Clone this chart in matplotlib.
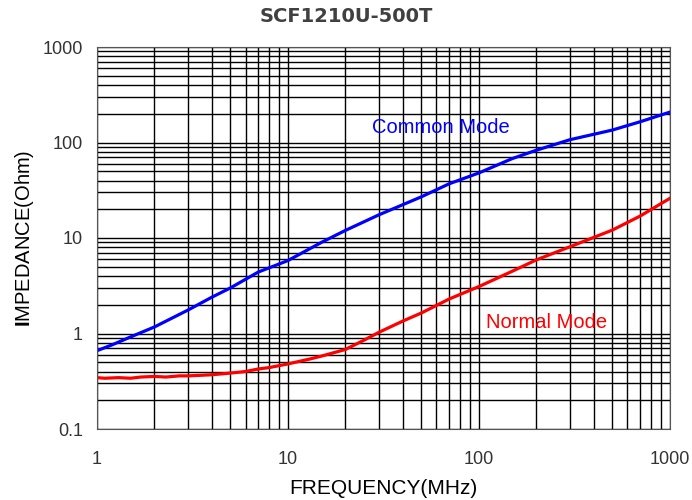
import matplotlib
matplotlib.use("Agg")
import matplotlib.pyplot as plt
import numpy as np

plt.rcParams['font.family'] = ['Liberation Sans', 'DejaVu Sans']
plt.rcParams['mathtext.fontset'] = 'custom'
plt.rcParams['mathtext.bf'] = 'Liberation Sans:bold'
plt.rcParams['mathtext.rm'] = 'Liberation Sans'

# common mode impedance
cm_freq = [1, 1.2, 1.5, 2, 3, 4, 5, 7, 10, 15, 20, 30, 50, 70, 100, 150, 200, 300, 500, 700, 1000]
cm_imp = [0.66, 0.76, 0.92, 1.17, 1.76, 2.4, 3.0, 4.4, 5.8, 9.0, 12.0, 17.5, 27, 37, 48, 68, 83, 107, 135, 165, 208]

# normal mode impedance
nm_freq = [1, 1.1, 1.3, 1.5, 1.7, 2, 2.3, 2.7, 3, 3.5, 4, 5, 6, 7, 8, 10, 13, 15, 20, 25, 30, 40, 50, 70, 100, 150, 200, 300, 500, 700, 1000]
nm_imp = [0.345, 0.34, 0.345, 0.34, 0.35, 0.355, 0.35, 0.36, 0.36, 0.365, 0.37, 0.385, 0.40, 0.425, 0.44, 0.48, 0.54, 0.58, 0.68, 0.85, 1.03, 1.35, 1.64, 2.3, 3.1, 4.5, 5.9, 8.1, 12.1, 17, 26]

fig = plt.figure(figsize=(6.92, 5.0), dpi=100)
ax = fig.add_axes([0.140, 0.142, 0.828, 0.764])

ax.plot(cm_freq, cm_imp, color='#0000ff', lw=2.3)
ax.plot(nm_freq, nm_imp, color='#ff0000', lw=2.3)

ax.set_xscale('log')
ax.set_yscale('log')
ax.set_xlim(1, 1000)
ax.set_ylim(0.1, 1000)
ax.set_xticks([1, 10, 100, 1000])
ax.set_xticklabels(['1', '10', '100', '1000'])
ax.set_yticks([0.1, 1, 10, 100, 1000])
ax.set_yticklabels(['0.1', '1', '10', '100', '1000'])
ax.grid(True, which='both', color='black', lw=1.0)
ax.tick_params(which='both', length=0, labelsize=13, colors='#333333')
ax.tick_params(axis='x', pad=16)
ax.tick_params(axis='y', pad=10)
for s in ax.spines.values():
    s.set_color('#555555')

ax.text(27.5, 142, 'Common Mode', color='#0000ff', fontsize=14.5, ha='left', va='center')
ax.text(109, 1.29, 'Normal Mode', color='#ff0000', fontsize=14.5, ha='left', va='center')

ax.set_xlabel('FREQUENCY(MHz)', fontsize=15, labelpad=8)
ax.set_ylabel(r'$\mathbf{I}$MPEDANCE(Ohm)', fontsize=14.5, labelpad=5)
fig.text(0.5, 0.968, 'SCF1210U-500T', ha='center', va='center', fontsize=14,
         fontweight='bold', color='#404040', family='DejaVu Sans')

fig.savefig('out.png', dpi=100)
